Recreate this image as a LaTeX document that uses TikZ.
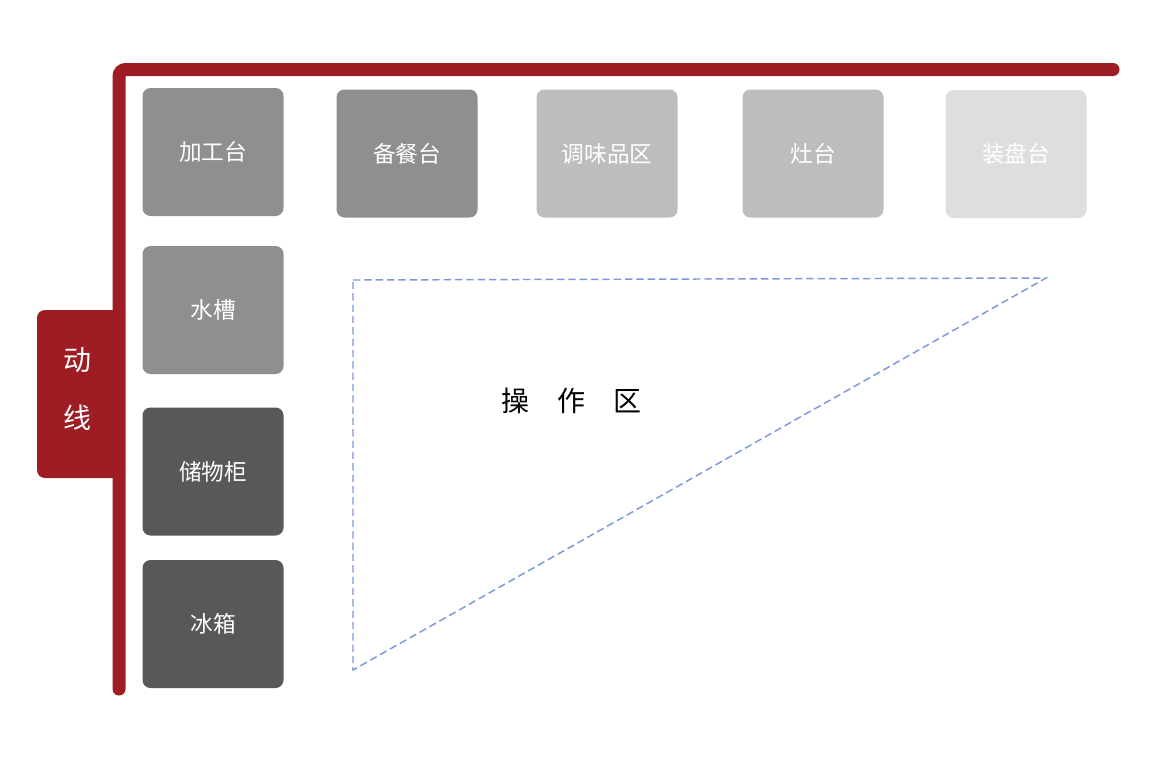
\documentclass[tikz,border=0pt]{standalone}
\usepackage{fontspec}
\newfontfamily\cjk{Noto Sans CJK SC}
\definecolor{lineRed}{HTML}{9E1C24}
\definecolor{gMid}{HTML}{8F8F8F}
\definecolor{gLight}{HTML}{BDBDBD}
\definecolor{gPale}{HTML}{DEDEDE}
\definecolor{gDark}{HTML}{595757}
\definecolor{dashBlue}{HTML}{7E98DD}
\begin{document}
\begin{tikzpicture}[x=0.75pt,y=-0.75pt,
  station/.style={rectangle, rounded corners=6pt, inner sep=0pt,
    minimum width=105.75pt, minimum height=96pt, text=white,
    font=\cjk\fontsize{17}{20}\selectfont},
  flowline/.style={draw=lineRed, line width=9.75pt, line cap=round, rounded corners=5pt},
  tabbox/.style={rectangle, fill=lineRed, rounded corners=6pt, inner sep=0pt,
    minimum width=65.25pt, minimum height=126pt},
  zone/.style={draw=dashBlue, line width=1.1pt, dash pattern=on 5.5pt off 3pt}]
\useasboundingbox (0,0) rectangle (1169,764);
\fill[white] (0,0) rectangle (1169,764);

% side tab
\node[tabbox] (tab) at (80.5,394) {};
\node[text=white, align=center, font=\cjk\fontsize{21}{43.5}\selectfont, inner sep=0pt] (dx) at (77,389) {动\\线};

% flow line
\coordinate (lineEnd) at (1113,69.5);
\coordinate (lineCorner) at (119,69.5);
\coordinate (lineBottom) at (119,689);
\draw[flowline] (lineEnd) -- (lineCorner) -- (lineBottom);

% stations
\node[station, fill=gMid]   (jgt) at (213,152)   {加工台};
\node[station, fill=gMid]   (bct) at (407,153.5) {备餐台};
\node[station, fill=gLight] (twp) at (607,153.5) {调味品区};
\node[station, fill=gLight] (zt)  at (813,153.5) {灶台};
\node[station, fill=gPale]  (zpt) at (1016,154)  {装盘台};
\node[station, fill=gMid]   (sc)  at (213,310)   {水槽};
\node[station, fill=gDark]  (cwg) at (213,471.5) {储物柜};
\node[station, fill=gDark]  (bx)  at (213,624)   {冰箱};

% operating zone
\coordinate (triA) at (353,280);
\coordinate (triB) at (1046,278);
\coordinate (triC) at (353,670);
\draw[zone] (triA) -- (triB) -- (triC) -- cycle;
\node[font=\cjk\fontsize{21}{25}\selectfont, inner sep=0pt] (czq) at (571,401) {操\quad 作\quad 区};
\end{tikzpicture}
\end{document}
